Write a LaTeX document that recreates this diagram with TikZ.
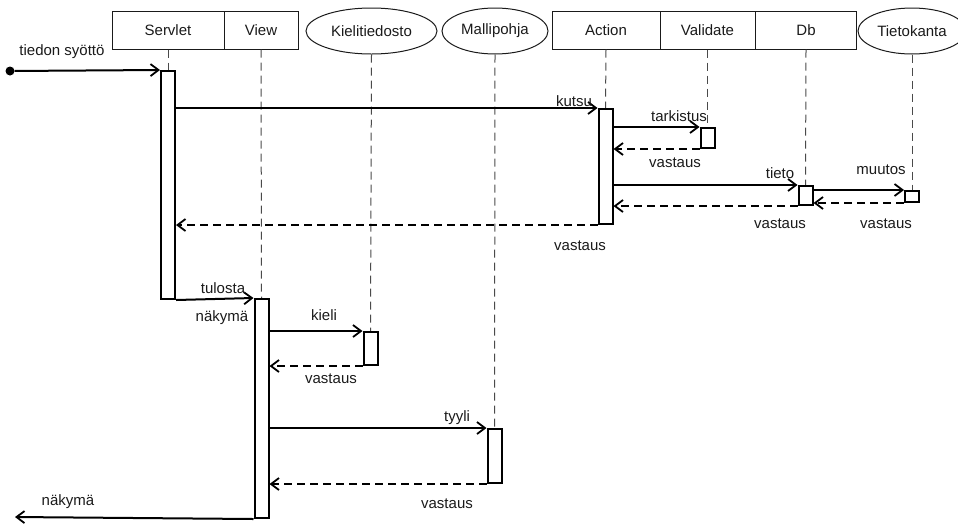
\documentclass[tikz,border=0pt]{standalone}
\usepackage{fontspec}
\setmainfont{Liberation Sans}
\usetikzlibrary{arrows.meta,shapes.geometric}
\definecolor{ink}{HTML}{1A1A1A}
\definecolor{lifegray}{HTML}{4A4A4A}

\begin{document}
\begin{tikzpicture}[
  x=1pt, y=-1pt,
  every node/.style={font=\fontsize{15}{17}\selectfont, text=ink},
  head/.style ={rectangle, draw=ink, line width=1pt, minimum height=38pt, inner sep=0pt},
  store/.style={ellipse, draw=ink, line width=1pt, minimum height=46pt, inner sep=0pt},
  act/.style  ={rectangle, draw=black, line width=2pt, fill=white, minimum width=14pt, inner sep=0pt, anchor=north},
  life/.style ={draw=lifegray, line width=1pt, dash pattern=on 8pt off 5pt},
  msg/.style  ={-{Straight Barb[length=8pt,width=12pt,line width=1.8pt]}, line width=2pt},
  ret/.style  ={msg, dash pattern=on 8pt off 5pt},
  lbl/.style  ={inner sep=0pt},
]
\useasboundingbox (0,0) rectangle (958,523);

% ── Heads ──
\node[head, minimum width=112pt] (servlet)  at (168,30)   {Servlet};
\node[head, minimum width=74pt]  (view)     at (261,30)   {View};
\node[store, minimum width=131pt](kieli)    at (371.5,31) {Kielitiedosto};
\node[store, minimum width=106pt](malli)    at (495,31)   {Mallipohja};
\node[head, minimum width=108pt] (action)   at (606,30)   {Action};
\node[head, minimum width=95pt]  (validate) at (707.5,30) {Validate};
\node[head, minimum width=101pt] (db)       at (806,30)   {Db};
\node[store, minimum width=108pt](kanta)    at (912,31)   {Tietokanta};

% ── Lifelines ──
\coordinate (sTop) at (168,70);
\coordinate (wTop) at (261.5,298);
\coordinate (kTop) at (370.5,331);
\coordinate (mTop) at (494.5,428);
\coordinate (aTop) at (605.5,108);
\coordinate (vTop) at (707.5,127);
\coordinate (dTop) at (805.5,185);
\coordinate (tTop) at (912,190);
\foreach \h/\t in {servlet/sTop, view/wTop, kieli/kTop, malli/mTop,
                   action/aTop, validate/vTop, db/dTop, kanta/tTop} {
  \draw[life] (\h.south) -- (\t);
}

% ── Activations ──
\node[act, minimum height=228pt] (sAct) at (sTop) {};
\node[act, minimum height=115pt] (aAct) at (aTop) {};
\node[act, minimum height=20pt]  (vAct) at (vTop) {};
\node[act, minimum height=19pt]  (dAct) at (dTop) {};
\node[act, minimum height=11pt]  (tAct) at (tTop) {};
\node[act, minimum height=219pt] (wAct) at (wTop) {};
\node[act, minimum height=33pt]  (kAct) at (kTop) {};
\node[act, minimum height=54pt]  (mAct) at (mTop) {};

% ── Input / output ──
\node[circle, fill=black, inner sep=0pt, minimum size=9pt] (start) at (10,71) {};
\coordinate (out) at (15,517);
\draw[msg] (start) -- (sAct.north west);
\draw[msg] (wAct.south west) -- (out);

% ── Calls ──
\draw[msg] (sAct.east |- aAct.north west) -- (aAct.north west);
\draw[msg] (aAct.east |- vAct.north west) -- (vAct.north west);
\draw[msg] (aAct.east |- dAct.north west) -- (dAct.north west);
\draw[msg] (dAct.east |- tAct.north west) -- (tAct.north west);
\draw[msg] (sAct.south east) -- (wAct.north west);
\draw[msg] (wAct.east |- kAct.north west) -- (kAct.north west);
\draw[msg] (wAct.east |- mAct.north west) -- (mAct.north west);

% ── Returns ──
\draw[ret] (vAct.south west) -- (aAct.east |- vAct.south west);
\draw[ret] (dAct.south west) -- (aAct.east |- dAct.south west);
\draw[ret] (tAct.south west) -- (dAct.east |- tAct.south west);
\draw[ret] (aAct.south west) -- (sAct.east |- aAct.south west);
\draw[ret] (kAct.south west) -- (wAct.east |- kAct.south west);
\draw[ret] (mAct.south west) -- (wAct.east |- mAct.south west);

% ── Labels ──
\node[lbl] (lIn)    at (62,52)   {tiedon syöttö};
\node[lbl] (lKutsu) at (574,101) {kutsu};
\node[lbl] (lTark)  at (679,116) {tarkistus};
\node[lbl] (lVas1)  at (675,163) {vastaus};
\node[lbl] (lTieto) at (780,173) {tieto};
\node[lbl] (lMuut)  at (881,170) {muutos};
\node[lbl] (lVas2)  at (780,224) {vastaus};
\node[lbl] (lVas3)  at (886,224) {vastaus};
\node[lbl] (lVas4)  at (580,246) {vastaus};
\node[lbl] (lTul)   at (223,288) {tulosta};
\node[lbl] (lNak1)  at (222,318) {näkymä};
\node[lbl] (lKieli) at (324,315) {kieli};
\node[lbl] (lVas5)  at (331,379) {vastaus};
\node[lbl] (lTyyli) at (457,418) {tyyli};
\node[lbl] (lVas6)  at (447,504) {vastaus};
\node[lbl] (lNak2)  at (68,502)  {näkymä};

\end{tikzpicture}
\end{document}
